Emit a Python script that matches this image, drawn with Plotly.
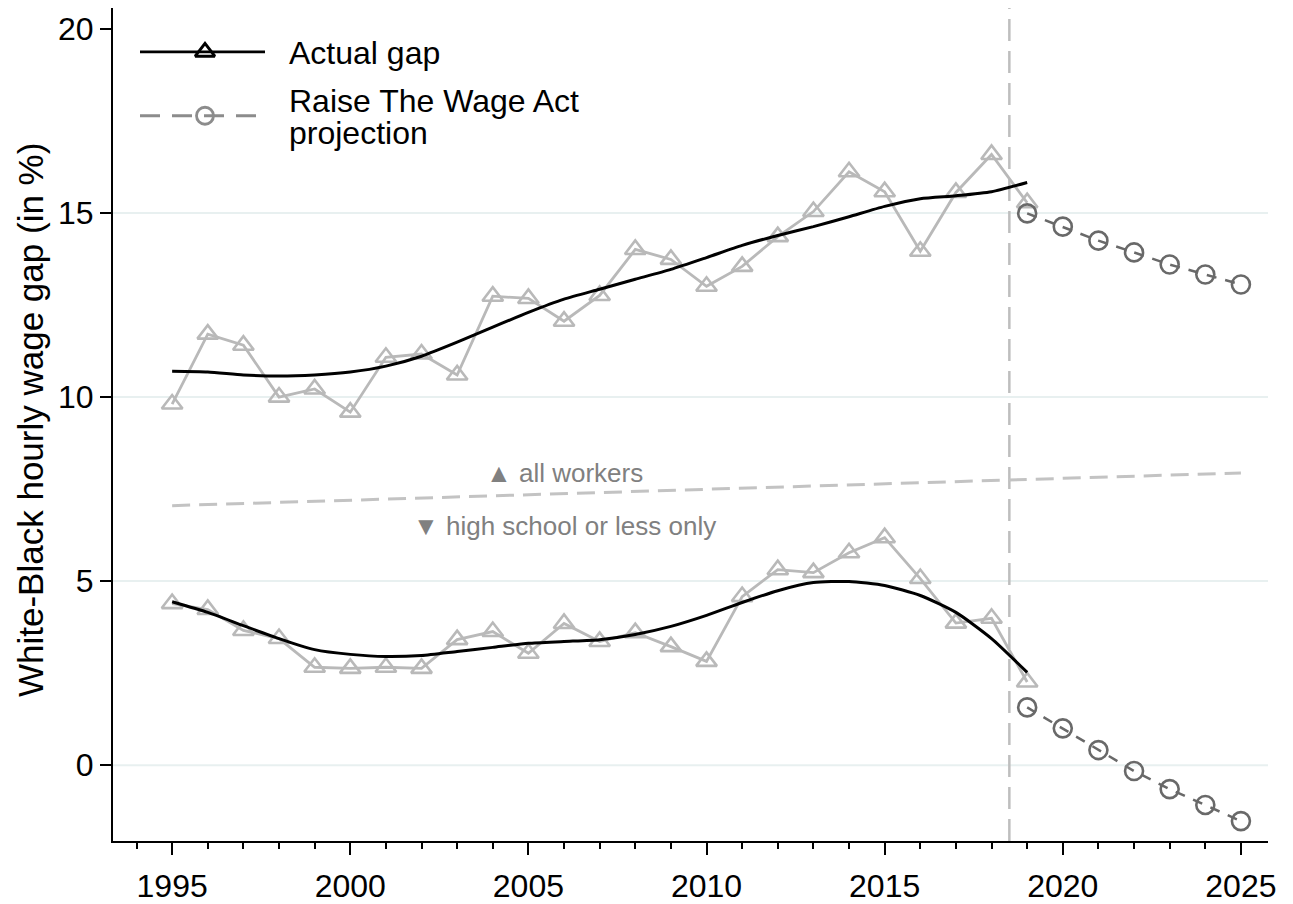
import plotly.graph_objects as go

# ---- data ----
years_actual = list(range(1995, 2020))
years_proj = list(range(2019, 2026))

all_actual = [9.81, 11.71, 11.41, 10.00, 10.22, 9.59, 11.08, 11.17, 10.60, 12.74,
              12.68, 12.06, 12.76, 14.01, 13.74, 13.01, 13.55, 14.36, 15.04, 16.12,
              15.58, 13.96, 15.56, 16.59, 15.28]
all_smooth = [10.70, 10.68, 10.60, 10.57, 10.60, 10.68, 10.84, 11.11, 11.49, 11.90,
              12.30, 12.66, 12.93, 13.20, 13.47, 13.79, 14.12, 14.39, 14.63, 14.90,
              15.18, 15.39, 15.47, 15.58, 15.83]
all_proj = [14.99, 14.63, 14.25, 13.93, 13.60, 13.33, 13.06]

hs_actual = [4.39, 4.23, 3.66, 3.44, 2.66, 2.63, 2.66, 2.63, 3.41, 3.63,
             3.04, 3.85, 3.36, 3.60, 3.22, 2.82, 4.58, 5.31, 5.23, 5.77,
             6.18, 5.07, 3.86, 3.99, 2.26]
hs_smooth = [4.44, 4.15, 3.79, 3.44, 3.14, 3.01, 2.95, 2.98, 3.09, 3.20,
             3.31, 3.36, 3.41, 3.55, 3.77, 4.07, 4.42, 4.74, 4.96, 4.99,
             4.88, 4.61, 4.15, 3.44, 2.52]
hs_proj = [1.57, 1.00, 0.41, -0.16, -0.65, -1.08, -1.52]

divider_x = [1995, 2025]
divider_y = [7.05, 7.94]
policy_year = 2018.5

x_ticks = [1995, 2000, 2005, 2010, 2015, 2020, 2025]
y_ticks = [0, 5, 10, 15, 20]
grid_vals = [0, 5, 10, 15]

FONT = "Liberation Sans, Arial, sans-serif"
ACT_GRAY = "rgb(185,185,185)"
PROJ_GRAY = "rgb(105,105,105)"

fig = go.Figure()

# divider between panels
fig.add_trace(go.Scatter(x=divider_x, y=divider_y, mode="lines",
                         line=dict(color="rgb(195,195,195)", width=3, dash="18px,9px"),
                         showlegend=False, hoverinfo="skip"))

for actual, smooth, proj in [(all_actual, all_smooth, all_proj),
                             (hs_actual, hs_smooth, hs_proj)]:
    fig.add_trace(go.Scatter(x=years_actual, y=actual, mode="lines+markers",
                             line=dict(color=ACT_GRAY, width=2.8),
                             marker=dict(symbol="triangle-up-open", size=18,
                                         color=ACT_GRAY, line=dict(width=2.6, color=ACT_GRAY)),
                             showlegend=False, hoverinfo="skip"))
    fig.add_trace(go.Scatter(x=years_actual, y=smooth, mode="lines",
                             line=dict(color="black", width=3, shape="spline", smoothing=0.6),
                             showlegend=False, hoverinfo="skip"))
    fig.add_trace(go.Scatter(x=years_proj, y=proj, mode="lines+markers",
                             line=dict(color=PROJ_GRAY, width=2.5, dash="10px,9px"),
                             marker=dict(symbol="circle-open", size=18,
                                         color=PROJ_GRAY, line=dict(width=2.6, color=PROJ_GRAY)),
                             showlegend=False, hoverinfo="skip"))

# ---- manual legend on an overlay axis in [0,1] plot-area units ----
# page coords of plot area (page has an 8px body margin)
L = 113.0; R = 1268.0; T = 8.0; B = 843.0
def px(xp): return (xp - L) / (R - L)
def py(yp): return (B - yp) / (B - T)

fig.add_trace(go.Scatter(x=[px(140), px(265)], y=[py(52), py(52)], mode="lines",
                         line=dict(color="black", width=2.8), xaxis="x2", yaxis="y2",
                         showlegend=False, hoverinfo="skip"))
fig.add_trace(go.Scatter(x=[px(205)], y=[py(52)], mode="markers",
                         marker=dict(symbol="triangle-up-open", size=17, color="black",
                                     line=dict(width=3, color="black")),
                         xaxis="x2", yaxis="y2", showlegend=False, hoverinfo="skip"))
fig.add_trace(go.Scatter(x=[px(140), px(265)], y=[py(116), py(116)], mode="lines",
                         line=dict(color="rgb(140,140,140)", width=2.8, dash="20px,12px"),
                         xaxis="x2", yaxis="y2", showlegend=False, hoverinfo="skip"))
fig.add_trace(go.Scatter(x=[px(205)], y=[py(116)], mode="markers",
                         marker=dict(symbol="circle-open", size=17, color="rgb(140,140,140)",
                                     line=dict(width=2.8, color="rgb(140,140,140)")),
                         xaxis="x2", yaxis="y2", showlegend=False, hoverinfo="skip"))

shapes = []
for g in grid_vals:
    shapes.append(dict(type="line", xref="paper", yref="y", x0=0, x1=1, y0=g, y1=g,
                       line=dict(color="rgb(232,240,240)", width=2), layer="below"))
shapes.append(dict(type="line", xref="x", yref="paper", x0=policy_year, x1=policy_year,
                   y0=0, y1=1, line=dict(color="rgb(190,190,190)", width=2.5, dash="22px,10px"),
                   layer="below"))

annotations = [
    dict(text="Actual gap", xref="paper", yref="paper", x=px(287), y=py(53),
         xanchor="left", yanchor="middle", showarrow=False,
         font=dict(family=FONT, size=32, color="black")),
    dict(text="Raise The Wage Act", xref="paper", yref="paper", x=px(287), y=py(101),
         xanchor="left", yanchor="middle", showarrow=False,
         font=dict(family=FONT, size=32, color="black")),
    dict(text="projection", xref="paper", yref="paper", x=px(287), y=py(133),
         xanchor="left", yanchor="middle", showarrow=False,
         font=dict(family=FONT, size=32, color="black")),
    dict(text="▲ all workers", xref="x", yref="y", x=2006.0, y=7.95,
         xanchor="center", yanchor="middle", showarrow=False,
         font=dict(family=FONT, size=26, color="rgb(128,128,128)")),
    dict(text="▼ high school or less only", xref="x", yref="y", x=2006.0, y=6.5,
         xanchor="center", yanchor="middle", showarrow=False,
         font=dict(family=FONT, size=26, color="rgb(128,128,128)")),
    dict(text="White-Black hourly wage gap (in %)", xref="paper", yref="paper",
         x=px(30), y=py(421), xanchor="center", yanchor="middle", textangle=-90,
         showarrow=False, borderpad=0,
         font=dict(family=FONT, size=35, color="black")),
]

fig.update_layout(
    width=1285, height=896,
    margin=dict(l=105, r=25, t=0, b=61, pad=0),
    plot_bgcolor="white", paper_bgcolor="white",
    font=dict(family=FONT, size=32, color="black"),
    shapes=shapes, annotations=annotations,
    xaxis=dict(range=[1993.34, 2025.76], tickvals=x_ticks, ticks="outside", ticklen=12,
               tickwidth=1.5, tickcolor="black", showline=True, linecolor="black",
               linewidth=2, showgrid=False, zeroline=False, ticklabelstandoff=4,
               tickfont=dict(family=FONT, size=32, color="black"),
               minor=dict(dtick=1, tick0=1994, ticks="outside", ticklen=6,
                          tickwidth=1.5, tickcolor="black", showgrid=False)),
    yaxis=dict(range=[-2.06, 20.57], tickvals=y_ticks, ticks="outside", ticklen=11,
               tickwidth=1.5, tickcolor="black", showline=True, linecolor="black",
               linewidth=2, showgrid=False, zeroline=False,
               tickfont=dict(family=FONT, size=32, color="black")),
    xaxis2=dict(overlaying="x", range=[0, 1], visible=False, fixedrange=True),
    yaxis2=dict(overlaying="y", range=[0, 1], visible=False, fixedrange=True),
)

fig.write_html("out.html")
